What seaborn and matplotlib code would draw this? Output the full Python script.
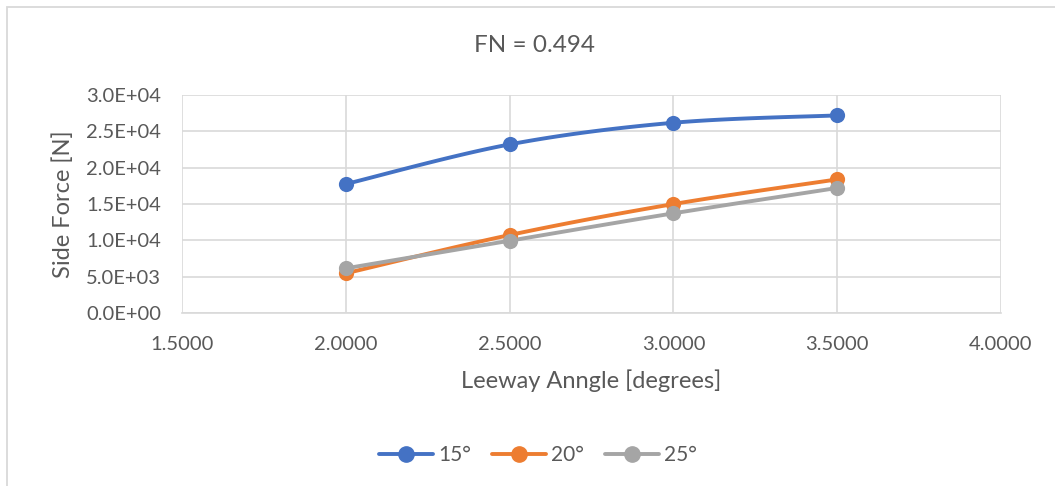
import numpy as np
import pandas as pd
import matplotlib
matplotlib.use("Agg")
import matplotlib.pyplot as plt
from matplotlib.lines import Line2D
from matplotlib.patches import Rectangle
import seaborn as sns

# Leeway angle (degrees) and side force (N) for three heel angles
leeway = [2.0, 2.5, 3.0, 3.5]
force_15 = [17740, 23180, 26150, 27160]
force_20 = [5490, 10740, 14990, 18380]
force_25 = [6170, 9960, 13720, 17200]
series_names = ["15°", "20°", "25°"]
colors = ["#4472C4", "#ED7D31", "#A5A5A5"]

x_ticks = [1.5, 2.0, 2.5, 3.0, 3.5, 4.0]
y_ticks = [0, 5000, 10000, 15000, 20000, 25000, 30000]

df = pd.DataFrame({
    "leeway": leeway * 3,
    "force": force_15 + force_20 + force_25,
    "series": sum([[n] * len(leeway) for n in series_names], []),
})


def smooth_curve(xs, ys, n=40):
    """Cubic Bezier smoothing through every point (Catmull-Rom style)."""
    xs = np.asarray(xs, float)
    ys = np.asarray(ys, float)
    pts = np.column_stack([xs, ys])
    out = []
    for i in range(len(pts) - 1):
        p0 = pts[max(i - 1, 0)]
        p1 = pts[i]
        p2 = pts[i + 1]
        p3 = pts[min(i + 2, len(pts) - 1)]
        c1 = p1 + (p2 - p0) / 6.0
        c2 = p2 - (p3 - p1) / 6.0
        t = np.linspace(0, 1, n)[:, None]
        seg = ((1 - t) ** 3) * p1 + 3 * ((1 - t) ** 2) * t * c1 + 3 * (1 - t) * t ** 2 * c2 + t ** 3 * p2
        out.append(seg if i == 0 else seg[1:])
    curve = np.vstack(out)
    return curve[:, 0], curve[:, 1]


sns.set_theme(style="white")
plt.rcParams["font.family"] = ["Lato", "DejaVu Sans"]
text_color = "#595959"
grid_color = "#D9D9D9"

W, H = 1055, 486
fig = plt.figure(figsize=(W / 100, H / 100), dpi=100)
# chart-area frame (only its top and left edges fall inside the image)
fig.patches.append(Rectangle((7 / W, -0.1), 1.2, 1 - 7 / H + 0.1,
                             transform=fig.transFigure, fill=False,
                             edgecolor=grid_color, linewidth=1.3))
ax = fig.add_axes([182 / W, 1 - 313.3 / H, 819 / W, 218.6 / H])

for name, color in zip(series_names, colors):
    sub = df[df["series"] == name]
    cx, cy = smooth_curve(sub["leeway"], sub["force"])
    sns.lineplot(x=cx, y=cy, ax=ax, color=color, linewidth=2.8, sort=False,
                 estimator=None, zorder=3)
    sns.scatterplot(data=sub, x="leeway", y="force", ax=ax, color=color, s=120,
                    edgecolor=color, linewidth=0, zorder=4, legend=False)

ax.set_xlim(1.5, 4.0)
ax.set_ylim(0, 30000)
ax.set_xticks(x_ticks)
ax.set_yticks(y_ticks)
ax.set_xticklabels([f"{v:.4f}" for v in x_ticks])
ax.set_yticklabels([f"{v:.1E}" for v in y_ticks])
ax.grid(True, color=grid_color, linewidth=1.2)
ax.set_axisbelow(True)
for side in ["top", "right", "left"]:
    ax.spines[side].set_visible(False)
ax.spines["bottom"].set_color(grid_color)
ax.spines["bottom"].set_linewidth(1.2)
ax.tick_params(axis="both", length=0, labelsize=14.5, colors=text_color)
ax.tick_params(axis="x", pad=16)
ax.tick_params(axis="y", pad=15)

ax.set_xlabel("Leeway Anngle [degrees]", fontsize=17, color=text_color, labelpad=12)
ax.set_ylabel("Side Force [N]", fontsize=17, color=text_color, labelpad=9)
fig.text(0.507, 1 - 46 / H, "FN = 0.494", ha="center", va="center",
         fontsize=17.5, color=text_color)

handles = [Line2D([0], [0], color=c, linewidth=2.8, marker="o", markersize=11)
           for c in colors]
leg = fig.legend(handles, series_names, loc="center", bbox_to_anchor=(538 / W, 1 - 455 / H),
                 ncol=3, frameon=False, fontsize=15, handlelength=2.6,
                 columnspacing=1.0, handletextpad=0.25)
for t in leg.get_texts():
    t.set_color(text_color)

fig.savefig("out.png", dpi=100)
